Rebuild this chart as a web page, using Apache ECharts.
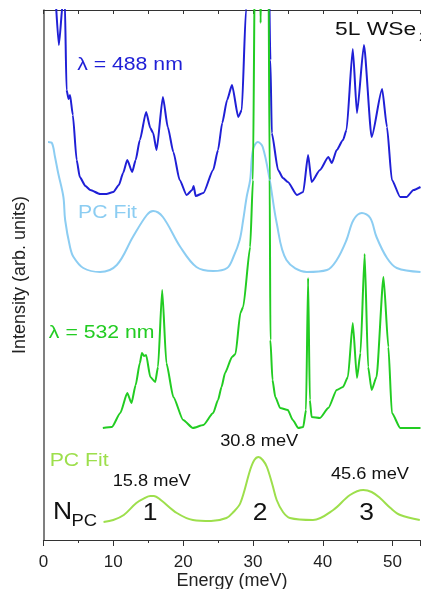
<!DOCTYPE html>
<html>
<head>
<meta charset="utf-8">
<script src="https://cdn.jsdelivr.net/npm/echarts@6/dist/echarts.min.js"></script>
<style>html,body{margin:0;padding:0;background:#fff}#c{width:421px;height:589px}</style>
</head>
<body>
<div id="c"></div>
<script>
// Energy axis (meV)
const xTicks = [0, 10, 20, 30, 40, 50];

// Raman spectrum, lambda = 488 nm (offset, arb. units)
const energy488 = [1.75,2.2,2.8,2.95,3.05,3.3,3.6,3.8,4.2,4.75,5.2,6.0,6.7,8.1,9.0,10.0,10.8,11.4,12.0,12.7,13.2,13.8,14.7,15.3,15.7,16.2,17.1,17.8,18.6,19.5,20.5,21.3,21.5,21.8,22.9,24.3,25.0,25.6,26.3,27.0,27.9,28.4,29.0,29.5,32.2,32.5,32.7,33.6,34.3,35.0,36.3,37.2,37.9,38.4,39.6,40.8,41.3,42.0,42.9,43.4,44.3,44.9,45.9,47.0,48.5,49.2,49.9,51.1,52.0,53.0,54.0];
const intensity488 = [540,495,540,600,540,450,441,445,425,380,363,354,350,346,346,348,355,367,380,368,380,400,428,412,407,390,443,413,388,360,345,350,354,344,347,370,390,417,440,455,423,430,530,600,600,480,407,370,362,358,345,348,385,358,370,383,377,390,400,410,491,427,495,403,451,413,360,343,343,350,353];

// PC fit for 488 nm
const energyFit488 = [0.65,1.2,1.65,2.1,2.85,3.1,3.8,4.3,5.7,8.1,10.5,12.8,14.8,15.7,17.1,19.6,21.9,24.3,26.3,27.2,28.1,28.6,29.1,29.6,30.0,30.7,31.4,32.4,33.4,34.8,37.7,40.6,42.0,43.4,44.4,45.6,46.8,47.7,49.2,50.6,54.0];
const intensityFit488 = [398,397,383,367,343,320,293,283,272,268,275,303,325,329,323,293,273,269,272,283,300,320,343,360,390,398,393,360,317,280,268,270,280,300,320,327,322,303,282,272,268];

// Raman spectrum, lambda = 532 nm
const energy532 = [8.5,9.8,11.0,12.0,12.6,13.2,13.8,14.1,14.4,14.7,15.3,16.0,16.4,17.0,17.6,18.6,20.0,21.4,22.9,24.3,25.0,25.5,26.0,27.0,27.5,28.2,28.6,29.6,30.0,30.3,30.9,31.1,31.3,32.2,32.4,32.5,32.8,33.2,33.9,35.0,35.7,36.5,37.2,37.6,37.9,38.15,38.4,39.6,40.8,42.0,42.9,43.6,44.3,44.9,45.4,46.0,46.5,47.0,47.7,48.7,49.4,49.9,51.1,54.0];
const intensity532 = [112,113,127,147,137,155,177,187,184,185,163,158,173,250,177,143,120,112,115,127,140,153,167,183,186,227,233,293,360,600,600,517,600,600,360,200,160,143,132,130,120,112,113,130,262,140,123,122,132,150,153,163,217,162,187,286,173,150,163,263,193,127,112,112];

// PC fit for 532 nm
const energyFit532 = [8.6,10.0,11.5,13.3,14.5,15.3,15.8,16.8,19.1,21.4,24.0,26.2,27.2,28.2,29.6,30.2,30.8,31.4,32.0,32.8,33.4,34.3,35.3,38.6,41.5,43.9,45.8,47.0,48.2,49.7,51.1,53.9];
const intensityFit532 = [18,20,25,37,42,44,44,40,27,20,19,22,28,37,70,80,83,80,73,55,40,28,22,20,30,45,50,48,42,32,25,20];

// Annotation texts
const peakLabels = ['15.8 meV', '30.8 meV', '45.6 meV'];
const modeLabels = ['1', '2', '3'];

const pairs = (xs, ys) => xs.map((x, i) => [x, ys[i]]);

const C_BLUE = '#1f1fd6';
const C_LBLUE = '#8ccdf2';
const C_GREEN = '#22cc22';
const C_YG = '#9ddf4c';
const FONT = 'Liberation Sans, Arial, sans-serif';

function txt(text, x, y, size, color, opts) {
  opts = opts || {};
  return {
    type: 'text', x: x, y: y, scaleX: opts.sx || 1.18, z: 100,
    style: { text: text, fill: color, fontSize: size, fontFamily: FONT,
      align: opts.align || 'center', verticalAlign: 'middle' }
  };
}

const chart = echarts.init(document.getElementById('c'));
chart.setOption({
  animation: false,
  backgroundColor: '#fff',
  grid: { left: 43.5, right: 0.5, top: 10, bottom: 49, containLabel: false, outerBoundsMode: 'none' },
  xAxis: [{
    type: 'value', position: 'bottom', min: 0, max: 54, interval: 10,
    axisLine: { show: true, lineStyle: { color: '#333', width: 1.2 } },
    axisTick: { show: true, inside: false, length: 6, lineStyle: { color: '#333' } },
    minorTick: { show: true, splitNumber: 2, length: 3, lineStyle: { color: '#333' } },
    splitLine: { show: false },
    axisLabel: { fontSize: 17, color: '#222', fontFamily: FONT, margin: 14,
      formatter: v => (xTicks.indexOf(v) >= 0 ? String(v) : '') },
    name: 'Energy (meV)', nameLocation: 'middle', nameGap: 32, nameMoveOverlap: false,
    nameTextStyle: { fontSize: 18, color: '#222', fontFamily: FONT }
  }, {
    type: 'value', position: 'top', min: 0, max: 54, interval: 5,
    axisLine: { show: true, onZero: false, lineStyle: { color: '#333', width: 1.2 } },
    axisTick: { show: true, inside: true, length: 4, lineStyle: { color: '#333' } },
    axisLabel: { show: false }, splitLine: { show: false }
  }],
  yAxis: {
    type: 'value', min: 0, max: 530,
    axisLine: { show: true, lineStyle: { color: '#555', width: 1.5 } },
    axisTick: { show: false }, axisLabel: { show: false }, splitLine: { show: false },
    name: 'Intensity (arb. units)', nameLocation: 'middle', nameGap: 14,
    nameTextStyle: { fontSize: 18, color: '#222', fontFamily: FONT }
  },
  series: [
    { type: 'line', data: pairs(energyFit488, intensityFit488), smooth: 0.35, showSymbol: false,
      lineStyle: { color: C_LBLUE, width: 2 }, z: 2 },
    { type: 'line', data: pairs(energy488, intensity488), smooth: 0.2, smoothMonotone: 'x', showSymbol: false,
      lineStyle: { color: C_BLUE, width: 2 }, z: 3 },
    { type: 'line', data: pairs(energy532, intensity532), smooth: 0.2, smoothMonotone: 'x', showSymbol: false,
      lineStyle: { color: C_GREEN, width: 2 }, z: 4 },
    { type: 'line', data: pairs(energyFit532, intensityFit532), smooth: 0.35, showSymbol: false,
      lineStyle: { color: C_YG, width: 2 }, z: 2 }
  ],
  graphic: [
    txt('\u03bb = 488 nm', 130, 65, 18, C_BLUE),
    txt('5L WSe', 335, 30, 18, '#111', { align: 'left', sx: 1.27 }),
    txt('2', 419, 37, 13, '#111', { align: 'left', sx: 1.2 }),
    txt('PC Fit', 107.5, 213, 18, C_LBLUE),
    txt('\u03bb = 532 nm', 101.7, 333, 18, C_GREEN),
    txt('PC Fit', 79.2, 461, 18, C_YG),
    txt(peakLabels[1], 259.2, 442, 16, '#111', { sx: 1.14 }),
    txt(peakLabels[0], 151.7, 482, 16, '#111', { sx: 1.14 }),
    txt(peakLabels[2], 370, 475, 16, '#111', { sx: 1.14 }),
    txt('N', 53, 513, 23, '#111', { align: 'left', sx: 1.15 }),
    txt('PC', 71.5, 522, 16, '#111', { align: 'left', sx: 1.15 }),
    txt(modeLabels[0], 150, 514, 23, '#111', { sx: 1.15 }),
    txt(modeLabels[1], 260, 514, 23, '#111', { sx: 1.15 }),
    txt(modeLabels[2], 366.7, 514, 23, '#111', { sx: 1.15 })
  ]
});
</script>
</body>
</html>
